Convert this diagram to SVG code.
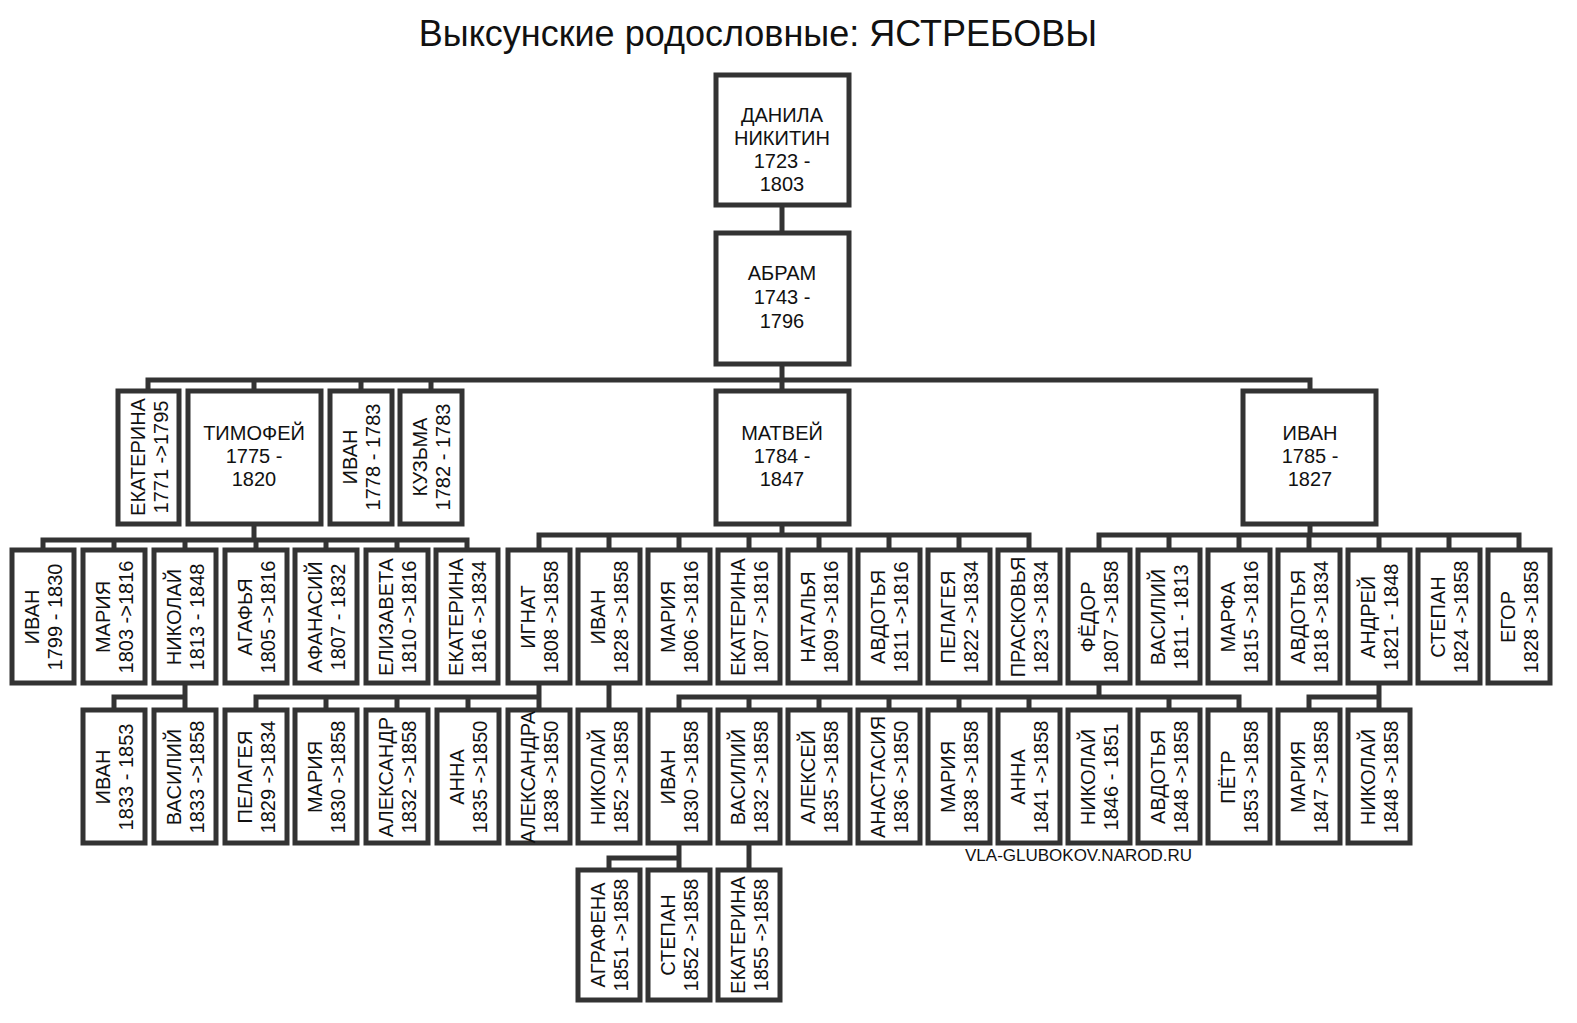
<svg xmlns="http://www.w3.org/2000/svg" width="1577" height="1023" viewBox="0 0 1577 1023">
<style>
rect{fill:#fff;stroke:#333;stroke-width:5}
text{font-family:"Liberation Sans",Arial,sans-serif;font-size:20px;fill:#111;text-anchor:middle}
.c path{fill:none;stroke:#333;stroke-width:5}
.t{font-size:36px}
.w{font-size:17px;text-anchor:start}
</style>
<rect x="0" y="0" width="1577" height="1023" style="stroke:none"/>
<text class="t" x="758" y="46">Выксунские родословные: ЯСТРЕБОВЫ</text>
<g class="c">
<path d="M782 205V233M782 364V380M148 391V380H1310V391M254 380V391M361 380V391M431 380V391M782 380V391"/>
<path d="M254 524V540M43 550V540H467V550M114 540V550M185 540V550M256 540V550M326 540V550M397 540V550"/>
<path d="M782 524V535M539 550V535H1029V550M609 535V550M679 535V550M749 535V550M819 535V550M889 535V550M959 535V550"/>
<path d="M1310 524V535M1099 550V535H1519V550M1169 535V550M1239 535V550M1309 535V550M1379 535V550M1449 535V550"/>
<path d="M185 683V697M114 710V697H185V710"/>
<path d="M539 683V697M256 710V697H539V710M326 697V710M397 697V710M468 697V710"/>
<path d="M609 683V710"/>
<path d="M1099 683V697M679 710V697H1239V710M749 697V710M819 697V710M889 697V710M959 697V710M1029 697V710M1169 697V710"/>
<path d="M1379 683V697M1309 710V697H1379V710"/>
<path d="M679 843V858H609V870M679 858V870M749 843V870"/>
</g>
<g id="danila"><rect x="716" y="75" width="133" height="130"/><text x="782" y="122">ДАНИЛА<tspan x="782" dy="23">НИКИТИН</tspan><tspan x="782" dy="23">1723 -</tspan><tspan x="782" dy="23">1803</tspan></text></g>
<g id="abram"><rect x="716" y="233" width="133" height="131"/><text x="782" y="280">АБРАМ<tspan x="782" dy="24">1743 -</tspan><tspan x="782" dy="24">1796</tspan></text></g>
<g id="timofey"><rect x="188" y="391" width="133" height="133"/><text x="254" y="440">ТИМОФЕЙ<tspan x="254" dy="23">1775 -</tspan><tspan x="254" dy="23">1820</tspan></text></g>
<g id="matvey"><rect x="716" y="391" width="133" height="133"/><text x="782" y="440">МАТВЕЙ<tspan x="782" dy="23">1784 -</tspan><tspan x="782" dy="23">1847</tspan></text></g>
<g id="ivan1785"><rect x="1243" y="391" width="133" height="133"/><text x="1310" y="440">ИВАН<tspan x="1310" dy="23">1785 -</tspan><tspan x="1310" dy="23">1827</tspan></text></g>
<g id="ekaterina1771"><rect x="118" y="391" width="61" height="133"/><text transform="translate(149,457) rotate(-90)" y="-4">ЕКАТЕРИНА<tspan x="0" dy="23">1771 -&gt;1795</tspan></text></g>
<g id="ivan1778"><rect x="330" y="391" width="62" height="133"/><text transform="translate(361,457) rotate(-90)" y="-4">ИВАН<tspan x="0" dy="23">1778 - 1783</tspan></text></g>
<g id="kuzma"><rect x="400" y="391" width="62" height="133"/><text transform="translate(431,457) rotate(-90)" y="-4">КУЗЬМА<tspan x="0" dy="23">1782 - 1783</tspan></text></g>
<g id="r2-1"><rect x="12" y="550" width="62" height="133"/><text transform="translate(43,617) rotate(-90)" y="-4">ИВАН<tspan x="0" dy="23">1799 - 1830</tspan></text></g>
<g id="r2-2"><rect x="83" y="550" width="62" height="133"/><text transform="translate(114,617) rotate(-90)" y="-4">МАРИЯ<tspan x="0" dy="23">1803 -&gt;1816</tspan></text></g>
<g id="r2-3"><rect x="154" y="550" width="62" height="133"/><text transform="translate(185,617) rotate(-90)" y="-4">НИКОЛАЙ<tspan x="0" dy="23">1813 - 1848</tspan></text></g>
<g id="r2-4"><rect x="225" y="550" width="62" height="133"/><text transform="translate(256,617) rotate(-90)" y="-4">АГАФЬЯ<tspan x="0" dy="23">1805 -&gt;1816</tspan></text></g>
<g id="r2-5"><rect x="295" y="550" width="62" height="133"/><text transform="translate(326,617) rotate(-90)" y="-4">АФАНАСИЙ<tspan x="0" dy="23">1807 - 1832</tspan></text></g>
<g id="r2-6"><rect x="366" y="550" width="62" height="133"/><text transform="translate(397,617) rotate(-90)" y="-4">ЕЛИЗАВЕТА<tspan x="0" dy="23">1810 -&gt;1816</tspan></text></g>
<g id="r2-7"><rect x="436" y="550" width="62" height="133"/><text transform="translate(467,617) rotate(-90)" y="-4">ЕКАТЕРИНА<tspan x="0" dy="23">1816 -&gt;1834</tspan></text></g>
<g id="r2-8"><rect x="508" y="550" width="62" height="133"/><text transform="translate(539,617) rotate(-90)" y="-4">ИГНАТ<tspan x="0" dy="23">1808 -&gt;1858</tspan></text></g>
<g id="r2-9"><rect x="578" y="550" width="62" height="133"/><text transform="translate(609,617) rotate(-90)" y="-4">ИВАН<tspan x="0" dy="23">1828 -&gt;1858</tspan></text></g>
<g id="r2-10"><rect x="648" y="550" width="62" height="133"/><text transform="translate(679,617) rotate(-90)" y="-4">МАРИЯ<tspan x="0" dy="23">1806 -&gt;1816</tspan></text></g>
<g id="r2-11"><rect x="718" y="550" width="62" height="133"/><text transform="translate(749,617) rotate(-90)" y="-4">ЕКАТЕРИНА<tspan x="0" dy="23">1807 -&gt;1816</tspan></text></g>
<g id="r2-12"><rect x="788" y="550" width="62" height="133"/><text transform="translate(819,617) rotate(-90)" y="-4">НАТАЛЬЯ<tspan x="0" dy="23">1809 -&gt;1816</tspan></text></g>
<g id="r2-13"><rect x="858" y="550" width="62" height="133"/><text transform="translate(889,617) rotate(-90)" y="-4">АВДОТЬЯ<tspan x="0" dy="23">1811 -&gt;1816</tspan></text></g>
<g id="r2-14"><rect x="928" y="550" width="62" height="133"/><text transform="translate(959,617) rotate(-90)" y="-4">ПЕЛАГЕЯ<tspan x="0" dy="23">1822 -&gt;1834</tspan></text></g>
<g id="r2-15"><rect x="998" y="550" width="62" height="133"/><text transform="translate(1029,617) rotate(-90)" y="-4">ПРАСКОВЬЯ<tspan x="0" dy="23">1823 -&gt;1834</tspan></text></g>
<g id="r2-16"><rect x="1068" y="550" width="62" height="133"/><text transform="translate(1099,617) rotate(-90)" y="-4">ФЁДОР<tspan x="0" dy="23">1807 -&gt;1858</tspan></text></g>
<g id="r2-17"><rect x="1138" y="550" width="62" height="133"/><text transform="translate(1169,617) rotate(-90)" y="-4">ВАСИЛИЙ<tspan x="0" dy="23">1811 - 1813</tspan></text></g>
<g id="r2-18"><rect x="1208" y="550" width="62" height="133"/><text transform="translate(1239,617) rotate(-90)" y="-4">МАРФА<tspan x="0" dy="23">1815 -&gt;1816</tspan></text></g>
<g id="r2-19"><rect x="1278" y="550" width="62" height="133"/><text transform="translate(1309,617) rotate(-90)" y="-4">АВДОТЬЯ<tspan x="0" dy="23">1818 -&gt;1834</tspan></text></g>
<g id="r2-20"><rect x="1348" y="550" width="62" height="133"/><text transform="translate(1379,617) rotate(-90)" y="-4">АНДРЕЙ<tspan x="0" dy="23">1821 - 1848</tspan></text></g>
<g id="r2-21"><rect x="1418" y="550" width="62" height="133"/><text transform="translate(1449,617) rotate(-90)" y="-4">СТЕПАН<tspan x="0" dy="23">1824 -&gt;1858</tspan></text></g>
<g id="r2-22"><rect x="1488" y="550" width="62" height="133"/><text transform="translate(1519,617) rotate(-90)" y="-4">ЕГОР<tspan x="0" dy="23">1828 -&gt;1858</tspan></text></g>
<g id="r3-1"><rect x="83" y="710" width="62" height="133"/><text transform="translate(114,777) rotate(-90)" y="-4">ИВАН<tspan x="0" dy="23">1833 - 1853</tspan></text></g>
<g id="r3-2"><rect x="154" y="710" width="62" height="133"/><text transform="translate(185,777) rotate(-90)" y="-4">ВАСИЛИЙ<tspan x="0" dy="23">1833 -&gt;1858</tspan></text></g>
<g id="r3-3"><rect x="225" y="710" width="62" height="133"/><text transform="translate(256,777) rotate(-90)" y="-4">ПЕЛАГЕЯ<tspan x="0" dy="23">1829 -&gt;1834</tspan></text></g>
<g id="r3-4"><rect x="295" y="710" width="62" height="133"/><text transform="translate(326,777) rotate(-90)" y="-4">МАРИЯ<tspan x="0" dy="23">1830 -&gt;1858</tspan></text></g>
<g id="r3-5"><rect x="366" y="710" width="62" height="133"/><text transform="translate(397,777) rotate(-90)" y="-4">АЛЕКСАНДР<tspan x="0" dy="23">1832 -&gt;1858</tspan></text></g>
<g id="r3-6"><rect x="437" y="710" width="62" height="133"/><text transform="translate(468,777) rotate(-90)" y="-4">АННА<tspan x="0" dy="23">1835 -&gt;1850</tspan></text></g>
<g id="r3-7"><rect x="508" y="710" width="62" height="133"/><text transform="translate(539,777) rotate(-90)" y="-4">АЛЕКСАНДРА<tspan x="0" dy="23">1838 -&gt;1850</tspan></text></g>
<g id="r3-8"><rect x="578" y="710" width="62" height="133"/><text transform="translate(609,777) rotate(-90)" y="-4">НИКОЛАЙ<tspan x="0" dy="23">1852 -&gt;1858</tspan></text></g>
<g id="r3-9"><rect x="648" y="710" width="62" height="133"/><text transform="translate(679,777) rotate(-90)" y="-4">ИВАН<tspan x="0" dy="23">1830 -&gt;1858</tspan></text></g>
<g id="r3-10"><rect x="718" y="710" width="62" height="133"/><text transform="translate(749,777) rotate(-90)" y="-4">ВАСИЛИЙ<tspan x="0" dy="23">1832 -&gt;1858</tspan></text></g>
<g id="r3-11"><rect x="788" y="710" width="62" height="133"/><text transform="translate(819,777) rotate(-90)" y="-4">АЛЕКСЕЙ<tspan x="0" dy="23">1835 -&gt;1858</tspan></text></g>
<g id="r3-12"><rect x="858" y="710" width="62" height="133"/><text transform="translate(889,777) rotate(-90)" y="-4">АНАСТАСИЯ<tspan x="0" dy="23">1836 -&gt;1850</tspan></text></g>
<g id="r3-13"><rect x="928" y="710" width="62" height="133"/><text transform="translate(959,777) rotate(-90)" y="-4">МАРИЯ<tspan x="0" dy="23">1838 -&gt;1858</tspan></text></g>
<g id="r3-14"><rect x="998" y="710" width="62" height="133"/><text transform="translate(1029,777) rotate(-90)" y="-4">АННА<tspan x="0" dy="23">1841 -&gt;1858</tspan></text></g>
<g id="r3-15"><rect x="1068" y="710" width="62" height="133"/><text transform="translate(1099,777) rotate(-90)" y="-4">НИКОЛАЙ<tspan x="0" dy="23">1846 - 1851</tspan></text></g>
<g id="r3-16"><rect x="1138" y="710" width="62" height="133"/><text transform="translate(1169,777) rotate(-90)" y="-4">АВДОТЬЯ<tspan x="0" dy="23">1848 -&gt;1858</tspan></text></g>
<g id="r3-17"><rect x="1208" y="710" width="62" height="133"/><text transform="translate(1239,777) rotate(-90)" y="-4">ПЁТР<tspan x="0" dy="23">1853 -&gt;1858</tspan></text></g>
<g id="r3-18"><rect x="1278" y="710" width="62" height="133"/><text transform="translate(1309,777) rotate(-90)" y="-4">МАРИЯ<tspan x="0" dy="23">1847 -&gt;1858</tspan></text></g>
<g id="r3-19"><rect x="1348" y="710" width="62" height="133"/><text transform="translate(1379,777) rotate(-90)" y="-4">НИКОЛАЙ<tspan x="0" dy="23">1848 -&gt;1858</tspan></text></g>
<g id="r4-1"><rect x="578" y="870" width="62" height="130"/><text transform="translate(609,935) rotate(-90)" y="-4">АГРАФЕНА<tspan x="0" dy="23">1851 -&gt;1858</tspan></text></g>
<g id="r4-2"><rect x="648" y="870" width="62" height="130"/><text transform="translate(679,935) rotate(-90)" y="-4">СТЕПАН<tspan x="0" dy="23">1852 -&gt;1858</tspan></text></g>
<g id="r4-3"><rect x="718" y="870" width="62" height="130"/><text transform="translate(749,935) rotate(-90)" y="-4">ЕКАТЕРИНА<tspan x="0" dy="23">1855 -&gt;1858</tspan></text></g>
<text class="w" x="965" y="861">VLA-GLUBOKOV.NAROD.RU</text>
</svg>
